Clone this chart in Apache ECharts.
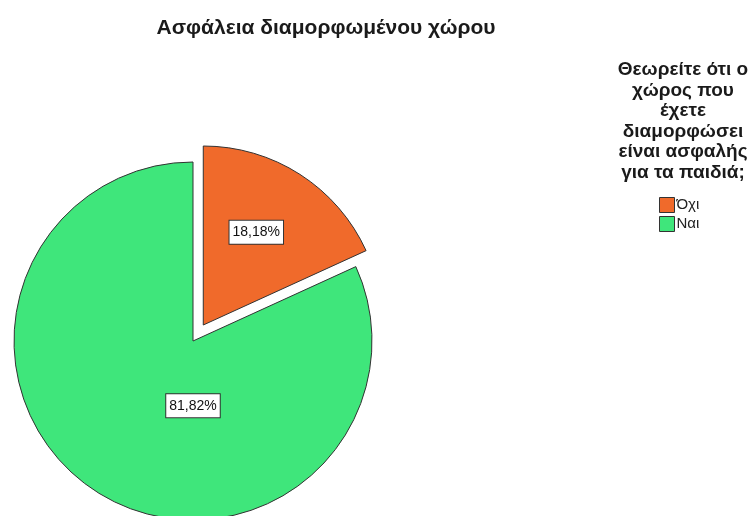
<!DOCTYPE html>
<html>
<head>
<meta charset="utf-8">
<script src="https://cdn.jsdelivr.net/npm/echarts@6/dist/echarts.min.js"></script>
<style>
  html, body { margin: 0; padding: 0; background: #fff; }
  #chart { width: 749px; height: 516px; }
</style>
</head>
<body>
<div id="chart"></div>
<script>
// Answers to the safety question (percent of respondents)
const categories = ['Όχι', 'Ναι'];
const percents = [18.18, 81.82];
const colors = ['#F06A2B', '#3FE67B'];

const chartTitle = 'Ασφάλεια διαμορφωμένου χώρου';
const legendTitle = ['Θεωρείτε ότι ο', 'χώρος που', 'έχετε', 'διαμορφώσει', 'είναι ασφαλής', 'για τα παιδιά;'];

// Inside-label nudges per slice
const labelShift = [[3, -15], [50, -13]];

const chart = echarts.init(document.getElementById('chart'), null, { renderer: 'canvas' });

const fmt = v => v.toFixed(2).replace('.', ',') + '%';
const font = 'Liberation Sans, Arial, sans-serif';

chart.setOption({
  animation: false,
  backgroundColor: '#ffffff',
  title: [
    {
      text: chartTitle,
      left: 321,
      top: 13,
      textAlign: 'center',
      textStyle: { fontFamily: font, fontSize: 21, fontWeight: 'bold', color: '#1a1a1a' }
    },
    {
      text: legendTitle.join('\n'),
      left: 678,
      top: 55,
      textAlign: 'center',
      textStyle: { fontFamily: font, fontSize: 19, fontWeight: 'bold', color: '#1a1a1a', lineHeight: 20.5, align: 'center' }
    }
  ],
  legend: {
    orient: 'vertical',
    left: 654,
    top: 192,
    itemWidth: 15,
    itemHeight: 15,
    itemGap: 3,
    icon: 'rect',
    selectedMode: false,
    data: categories,
    itemStyle: { borderColor: '#333', borderWidth: 1 },
    textStyle: { fontFamily: font, fontSize: 15, color: '#222', padding: [0, 0, 0, -3] }
  },
  series: [{
    type: 'pie',
    center: [193, 341],
    radius: [0, 179],
    startAngle: 90,
    clockwise: true,
    selectedMode: 'multiple',
    selectedOffset: 19,
    avoidLabelOverlap: false,
    emphasis: { disabled: true },
    itemStyle: { borderColor: '#333', borderWidth: 1 },
    label: {
      show: true,
      position: 'inside',
      formatter: p => fmt(p.value),
      fontFamily: font,
      fontSize: 14,
      color: '#111',
      backgroundColor: '#ffffff',
      borderColor: '#333',
      borderWidth: 1,
      padding: [5, 3, 4, 3]
    },
    labelLine: { show: false },
    labelLayout: p => ({ dx: labelShift[p.dataIndex][0], dy: labelShift[p.dataIndex][1] }),
    data: categories.map((c, i) => ({
      name: c,
      value: percents[i],
      selected: i === 0,
      itemStyle: { color: colors[i] }
    }))
  }]
});
</script>
</body>
</html>
